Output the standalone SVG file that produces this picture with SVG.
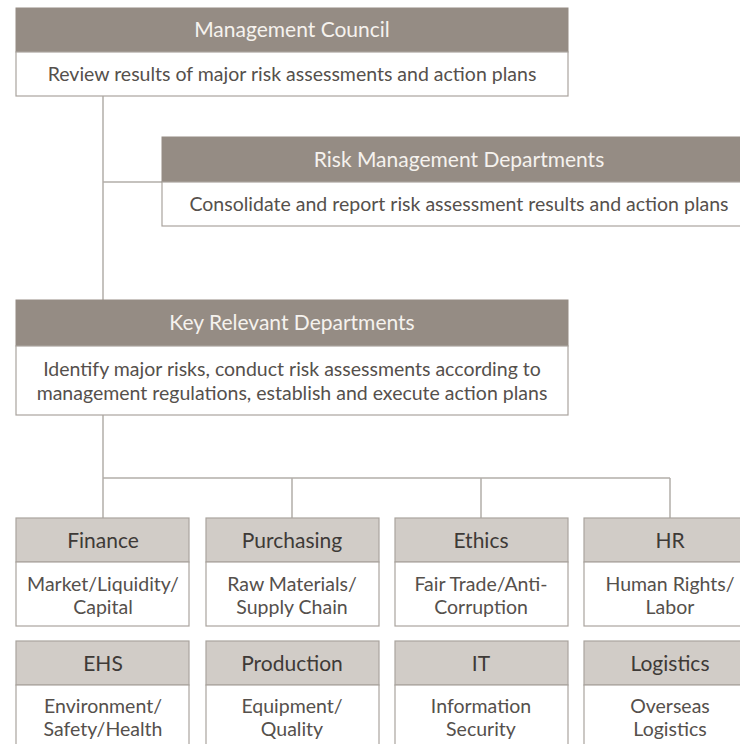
<svg xmlns="http://www.w3.org/2000/svg" width="740" height="744" viewBox="0 0 740 744">
<style>
.hd{fill:#958c84;stroke:#958c84;stroke-width:1}
.bd{fill:#ffffff;stroke:#aaa49e;stroke-width:1.2}
.sh{fill:#d1ccc7;stroke:#aaa49e;stroke-width:1.2}
.ht{font-family:Lato,"Noto Sans",sans-serif;font-size:21px;fill:#f5f2ee;text-anchor:middle}
.bt{font-family:Lato,"Noto Sans",sans-serif;font-size:19.5px;fill:#55504c;text-anchor:middle}
.st{font-family:Lato,"Noto Sans",sans-serif;font-size:21px;fill:#3e3a37;text-anchor:middle}
.ln{fill:none;stroke:#b3aea9;stroke-width:1.5}
</style>
<rect width="740" height="744" fill="#ffffff"/>
<g id="connectors">
<path class="ln" d="M103 96V300M103 182H162"/>
<path class="ln" d="M103 415V518M103 478H670M292 478V518M481 478V518M670 478V518"/>
</g>
<g id="management-council">
<rect class="hd" x="16" y="8" width="552" height="44"/>
<rect class="bd" x="16" y="52" width="552" height="44"/>
<text class="ht" x="292" y="37">Management Council</text>
<text class="bt" x="292" y="81">Review results of major risk assessments and action plans</text>
</g>
<g id="risk-management-departments">
<rect class="hd" x="162" y="137" width="600" height="45"/>
<rect class="bd" x="162" y="182" width="600" height="44"/>
<text class="ht" x="459" y="167">Risk Management Departments</text>
<text class="bt" x="459" y="211">Consolidate and report risk assessment results and action plans</text>
</g>
<g id="key-relevant-departments">
<rect class="hd" x="16" y="300" width="552" height="46"/>
<rect class="bd" x="16" y="346" width="552" height="69"/>
<text class="ht" x="292" y="330">Key Relevant Departments</text>
<text class="bt" x="292" y="376">Identify major risks, conduct risk assessments according to</text>
<text class="bt" x="292" y="400">management regulations, establish and execute action plans</text>
</g>
<g id="finance">
<rect class="sh" x="16" y="518" width="173" height="44"/>
<rect class="bd" x="16" y="562" width="173" height="64"/>
<text class="st" x="103" y="548">Finance</text>
<text class="bt" x="103" y="591">Market/Liquidity/</text>
<text class="bt" x="103" y="614">Capital</text>
</g>
<g id="purchasing">
<rect class="sh" x="206" y="518" width="173" height="44"/>
<rect class="bd" x="206" y="562" width="173" height="64"/>
<text class="st" x="292" y="548">Purchasing</text>
<text class="bt" x="292" y="591">Raw Materials/</text>
<text class="bt" x="292" y="614">Supply Chain</text>
</g>
<g id="ethics">
<rect class="sh" x="395" y="518" width="173" height="44"/>
<rect class="bd" x="395" y="562" width="173" height="64"/>
<text class="st" x="481" y="548">Ethics</text>
<text class="bt" x="481" y="591">Fair Trade/Anti-</text>
<text class="bt" x="481" y="614">Corruption</text>
</g>
<g id="hr">
<rect class="sh" x="584" y="518" width="173" height="44"/>
<rect class="bd" x="584" y="562" width="173" height="64"/>
<text class="st" x="670" y="548">HR</text>
<text class="bt" x="670" y="591">Human Rights/</text>
<text class="bt" x="670" y="614">Labor</text>
</g>
<g id="ehs">
<rect class="sh" x="16" y="641" width="173" height="44"/>
<rect class="bd" x="16" y="685" width="173" height="70"/>
<text class="st" x="103" y="671">EHS</text>
<text class="bt" x="103" y="713">Environment/</text>
<text class="bt" x="103" y="736">Safety/Health</text>
</g>
<g id="production">
<rect class="sh" x="206" y="641" width="173" height="44"/>
<rect class="bd" x="206" y="685" width="173" height="70"/>
<text class="st" x="292" y="671">Production</text>
<text class="bt" x="292" y="713">Equipment/</text>
<text class="bt" x="292" y="736">Quality</text>
</g>
<g id="it">
<rect class="sh" x="395" y="641" width="173" height="44"/>
<rect class="bd" x="395" y="685" width="173" height="70"/>
<text class="st" x="481" y="671">IT</text>
<text class="bt" x="481" y="713">Information</text>
<text class="bt" x="481" y="736">Security</text>
</g>
<g id="logistics">
<rect class="sh" x="584" y="641" width="173" height="44"/>
<rect class="bd" x="584" y="685" width="173" height="70"/>
<text class="st" x="670" y="671">Logistics</text>
<text class="bt" x="670" y="713">Overseas</text>
<text class="bt" x="670" y="736">Logistics</text>
</g>
</svg>
